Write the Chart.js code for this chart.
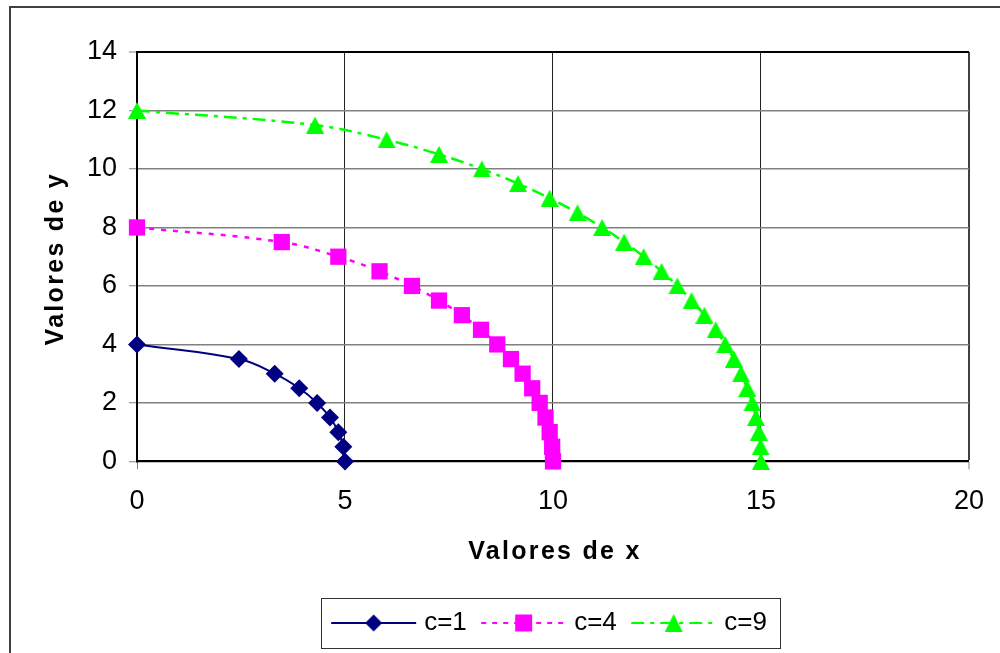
<!DOCTYPE html>
<html>
<head>
<meta charset="utf-8">
<script src="https://cdn.jsdelivr.net/npm/chart.js@4/dist/chart.umd.min.js"></script>
<style>
  html, body { margin: 0; padding: 0; background: #ffffff; }
  #wrap { width: 1000px; height: 653px; position: relative; }
</style>
</head>
<body>
<div id="wrap"><canvas id="chart" width="1000" height="653"></canvas></div>
<script>
// Series values: points on three quarter-ellipses
const seriesNames = ['c=1', 'c=4', 'c=9'];

const c1X = [0, 2.45, 3.31, 3.9, 4.33, 4.64, 4.84, 4.96, 5];
const c1Y = [4, 3.5, 3, 2.5, 2, 1.5, 1, 0.5, 0];

const c4X = [0, 3.48, 4.84, 5.83, 6.61, 7.26, 7.81, 8.27, 8.66, 8.99, 9.27, 9.5, 9.68, 9.82, 9.92, 9.98, 10];
const c4Y = [8, 7.5, 7, 6.5, 6, 5.5, 5, 4.5, 4, 3.5, 3, 2.5, 2, 1.5, 1, 0.5, 0];

const c9X = [0, 4.28, 6.0, 7.26, 8.29, 9.16, 9.92, 10.59, 11.18, 11.71, 12.18, 12.61, 12.99,
             13.33, 13.64, 13.91, 14.14, 14.35, 14.52, 14.67, 14.79, 14.88, 14.95, 14.99, 15];
const c9Y = [12, 11.5, 11, 10.5, 10, 9.5, 9, 8.5, 8, 7.5, 7, 6.5, 6,
             5.5, 5, 4.5, 4, 3.5, 3, 2.5, 2, 1.5, 1, 0.5, 0];

const xAxisTitle = 'Valores de x';
const yAxisTitle = 'Valores de y';

const FONT = "'Liberation Sans', Arial, Helvetica, sans-serif";

function toPoints(xs, ys) {
  return xs.map((x, i) => ({ x: x, y: ys[i] }));
}

// Triangle marker drawn as a small sprite, centred on its bounding box
function triangleSprite(color, w, h) {
  const c = document.createElement('canvas');
  c.width = w; c.height = h;
  const g = c.getContext('2d');
  g.fillStyle = color;
  g.beginPath();
  g.moveTo(w / 2, 0); g.lineTo(w, h); g.lineTo(0, h);
  g.closePath();
  g.fill();
  return c;
}

// Legend swatch: a line sample with the series marker in its middle
function swatch(color, dash, marker, size) {
  const c = document.createElement('canvas');
  c.width = 90; c.height = 30;
  const g = c.getContext('2d');
  g.strokeStyle = color;
  g.lineWidth = 2;
  g.setLineDash(dash);
  g.beginPath(); g.moveTo(1, 15); g.lineTo(86, 15); g.stroke();
  g.setLineDash([]);
  g.fillStyle = color;
  const cx = 43.5, cy = 15;
  g.beginPath();
  if (marker === 'diamond') {
    g.moveTo(cx, cy - size); g.lineTo(cx + size, cy); g.lineTo(cx, cy + size); g.lineTo(cx - size, cy);
  } else if (marker === 'square') {
    g.rect(cx - size, cy - size, 2 * size, 2 * size);
  } else {
    g.moveTo(cx, cy - size); g.lineTo(cx + size, cy + size); g.lineTo(cx - size, cy + size);
  }
  g.closePath();
  g.fill();
  return c;
}

const legendSwatches = [
  swatch('#000080', [], 'diamond', 8.5),
  swatch('#FF00FF', [5, 6], 'square', 8.5),
  swatch('#00FF00', [13, 6, 4, 6], 'triangle', 9)
];

// Frame around the whole chart, plus the legend box and axis titles
const decorations = {
  id: 'decorations',
  beforeDraw(chart) {
    const ctx = chart.ctx;
    ctx.save();
    ctx.fillStyle = '#ffffff';
    ctx.fillRect(0, 0, chart.width, chart.height);
    ctx.strokeStyle = '#404040';
    ctx.lineWidth = 2;
    ctx.strokeRect(10, 7, chart.width + 20, chart.height + 20);
    ctx.restore();
  },
  afterDraw(chart) {
    const ctx = chart.ctx;
    const area = chart.chartArea;
    ctx.save();
    // legend frame
    const hb = chart.legend.legendHitBoxes;
    if (hb && hb.length) {
      const first = hb[0], last = hb[hb.length - 1];
      const cy = first.top + first.height / 2;
      const left = Math.round(first.left - 18.5) + 0.5;
      const right = Math.round(last.left + last.width + 13.5) + 0.5;
      ctx.strokeStyle = '#333333';
      ctx.lineWidth = 1;
      ctx.strokeRect(left, Math.round(cy - 25) + 0.5, right - left, 50);
    }
    // axis titles
    ctx.fillStyle = '#000000';
    ctx.font = 'bold 25px ' + FONT;
    if ('letterSpacing' in ctx) ctx.letterSpacing = '2.3px';
    ctx.textAlign = 'center';
    ctx.textBaseline = 'alphabetic';
    ctx.fillText(xAxisTitle, (area.left + area.right) / 2 + 2, 559);
    ctx.translate(63, (area.top + area.bottom) / 2 + 2);
    ctx.rotate(-Math.PI / 2);
    ctx.fillText(yAxisTitle, 0, 0);
    ctx.restore();
  }
};

const datasets = [
  {
    label: seriesNames[0],
    data: toPoints(c1X, c1Y),
    borderColor: '#000080',
    backgroundColor: '#000080',
    borderWidth: 2,
    pointStyle: 'rectRot',
    pointRadius: 9,
    pointHoverRadius: 9,
    pointBorderWidth: 0
  },
  {
    label: seriesNames[1],
    data: toPoints(c4X, c4Y),
    borderColor: '#FF00FF',
    backgroundColor: '#FF00FF',
    borderWidth: 2.5,
    borderDash: [5, 7],
    pointStyle: 'rect',
    pointRadius: 11.5,
    pointHoverRadius: 11.5,
    pointBorderWidth: 0
  },
  {
    label: seriesNames[2],
    data: toPoints(c9X, c9Y),
    borderColor: '#00FF00',
    backgroundColor: '#00FF00',
    borderWidth: 2.5,
    borderDash: [13, 6, 4, 6],
    pointStyle: triangleSprite('#00FF00', 18, 17),
    pointRadius: 10,
    pointHoverRadius: 10,
    pointBorderWidth: 0
  }
].map(d => Object.assign(d, { showLine: true, tension: 0.4, clip: false, fill: false }));

new Chart(document.getElementById('chart'), {
  type: 'scatter',
  data: { datasets: datasets },
  plugins: [decorations],
  options: {
    responsive: false,
    animation: false,
    devicePixelRatio: 1,
    layout: { padding: { top: 52, right: 29, bottom: 7, left: 0 } },
    plugins: {
      tooltip: { enabled: false },
      legend: {
        position: 'bottom',
        fullSize: false,
        labels: {
          usePointStyle: true,
          pointStyleWidth: 72,
          padding: 22.4,
          color: '#000000',
          font: { family: FONT, size: 26 },
          generateLabels(chart) {
            const items = Chart.defaults.plugins.legend.labels.generateLabels(chart);
            items.forEach((it, i) => { it.pointStyle = legendSwatches[i]; });
            return items;
          }
        }
      }
    },
    scales: {
      x: {
        type: 'linear',
        min: 0,
        max: 20,
        afterFit(scale) { scale.height = 126.2; },
        ticks: {
          stepSize: 5,
          color: '#000000',
          padding: 16,
          font: { family: FONT, size: 27 }
        },
        grid: {
          color: c => c.tick && c.tick.value === 20 ? '#404040' : '#222222',
          lineWidth: c => c.tick && c.tick.value === 20 ? 2 : 1,
          tickColor: '#808080',
          tickLength: 8,
          tickWidth: 1
        },
        border: { color: '#000000', width: 2 }
      },
      y: {
        type: 'linear',
        min: 0,
        max: 14,
        afterFit(scale) { scale.width = 137; },
        ticks: {
          stepSize: 2,
          color: '#000000',
          padding: 12,
          font: { family: FONT, size: 27 }
        },
        grid: {
          color: c => c.tick && c.tick.value === 14 ? '#000000' : '#808080',
          lineWidth: c => c.tick && c.tick.value === 14 ? 2 : 1.5,
          tickColor: '#808080',
          tickLength: 8,
          tickWidth: 1
        },
        border: { color: '#000000', width: 2 }
      }
    }
  }
});
</script>
</body>
</html>
